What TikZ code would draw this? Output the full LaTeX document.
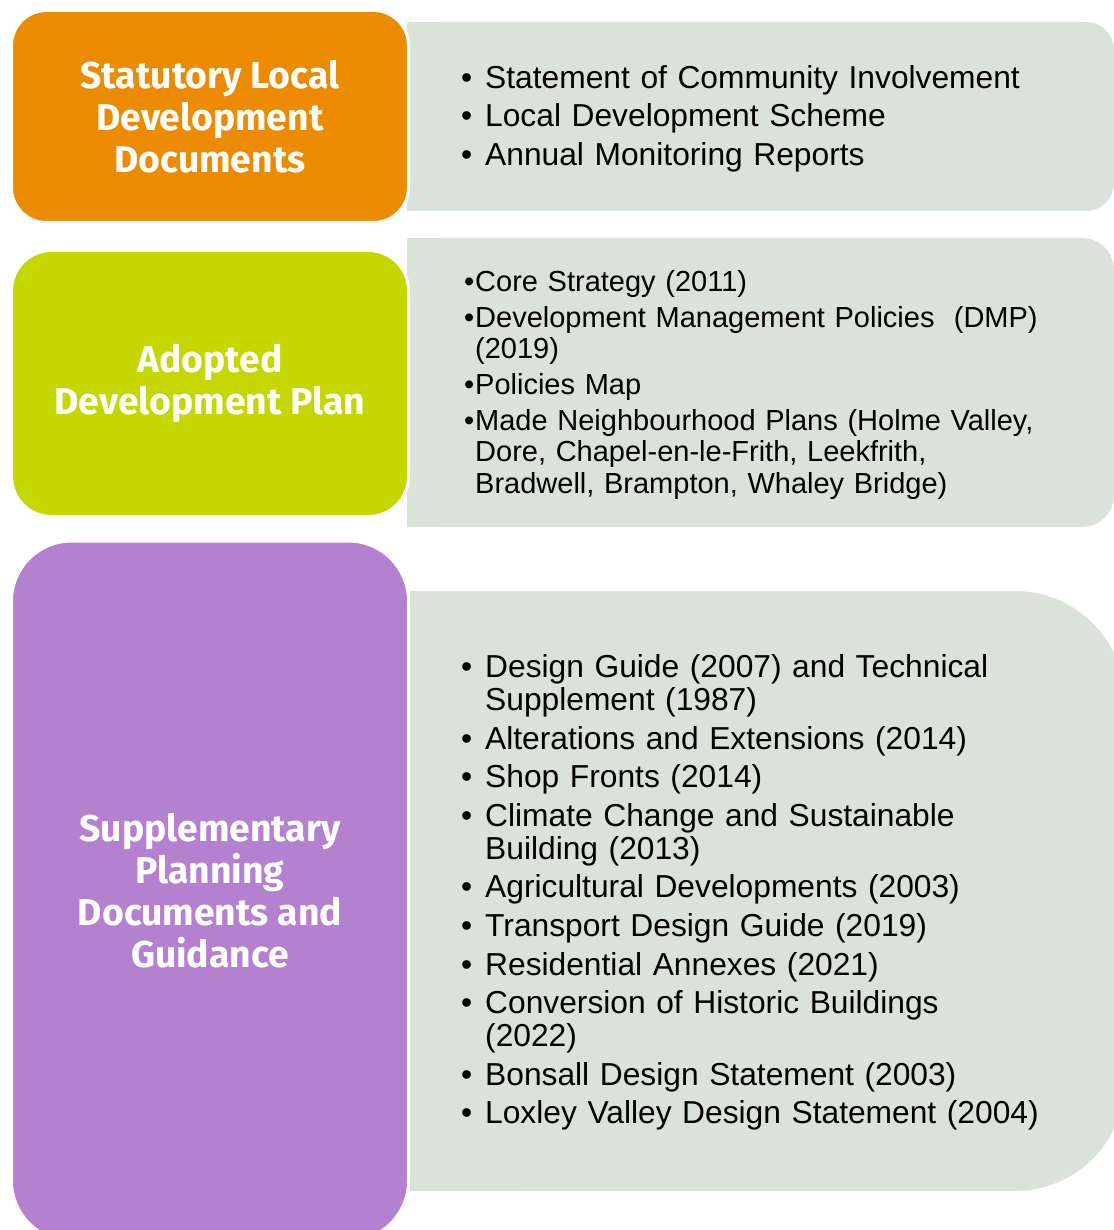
\documentclass[tikz,border=0pt]{standalone}
\usepackage{fontspec}
\setmainfont{Liberation Sans}
\newfontfamily\headfont{Fira Sans}

\definecolor{sldorange}{RGB}{236,139,0}
\definecolor{plangreen}{RGB}{197,215,0}
\definecolor{spdpurple}{RGB}{180,128,208}
\definecolor{panelgrey}{RGB}{217,227,218}

% one bulleted entry, wrapped lines hang under the text
\newcommand\bul[2]{\hangindent=#1\hangafter=1\noindent\makebox[#1][l]{\textbullet}#2\par}

\tikzset{
  head/.style={rounded corners=#1, draw=white, line width=3pt, text=white,
    minimum width=397pt, align=center,
    font=\headfont\bfseries\fontsize{37.3}{42}\selectfont},
  list/.style={anchor=base west, inner sep=0pt, text width=650pt, align=left}
}

\begin{document}
\begin{tikzpicture}[x=1pt,y=-1pt]
\useasboundingbox (0,0) rectangle (1113,1230);

% grey panels
\fill[panelgrey, rounded corners=28pt] (407,22) rectangle (1114,211);
\fill[panelgrey] (407,22) rectangle (700,211);
\fill[panelgrey, rounded corners=32pt] (407,238) rectangle (1114,527);
\fill[panelgrey] (407,238) rectangle (700,527);
\fill[panelgrey, rounded corners=110pt] (410,591) rectangle (1125,1191);
\fill[panelgrey] (410,591) rectangle (700,1191);

% headings
\node[head=35pt, fill=sldorange, minimum height=212pt] (sld) at (210,116.5) {Statutory Local\\Development\\Documents};
\node[head=40pt, fill=plangreen, minimum height=266pt] (adp) at (210,383.5) {Adopted\\Development Plan};
\node[head=60pt, fill=spdpurple, minimum height=700pt] (spd) at (210,891) {Supplementary\\Planning\\Documents and\\Guidance};

% lists
\node[list, font=\fontsize{31.75}{33}\selectfont] (sldlist) at (461,88.5) {\parskip=5.5pt
  \bul{24pt}{Statement of Community Involvement}
  \bul{24pt}{Local Development Scheme}
  \bul{24pt}{Annual Monitoring Reports}};

\node[list, font=\fontsize{29}{31.5}\selectfont] (adplist) at (464,291.5) {\parskip=4.3pt
  \bul{11pt}{Core Strategy (2011)}
  \bul{11pt}{Development Management Policies~ (DMP)\newline (2019)}
  \bul{11pt}{Policies Map}
  \bul{11pt}{Made Neighbourhood Plans (Holme Valley,\newline Dore, Chapel-en-le-Frith, Leekfrith,\newline Bradwell, Brampton, Whaley Bridge)}};

\node[list, font=\fontsize{31.75}{33}\selectfont] (spdlist) at (461,677.5) {\parskip=5.6pt
  \bul{24pt}{Design Guide (2007) and Technical\newline Supplement (1987)}
  \bul{24pt}{Alterations and Extensions (2014)}
  \bul{24pt}{Shop Fronts (2014)}
  \bul{24pt}{Climate Change and Sustainable\newline Building (2013)}
  \bul{24pt}{Agricultural Developments (2003)}
  \bul{24pt}{Transport Design Guide (2019)}
  \bul{24pt}{Residential Annexes (2021)}
  \bul{24pt}{Conversion of Historic Buildings\newline (2022)}
  \bul{24pt}{Bonsall Design Statement (2003)}
  \bul{24pt}{Loxley Valley Design Statement (2004)}};
\end{tikzpicture}
\end{document}
